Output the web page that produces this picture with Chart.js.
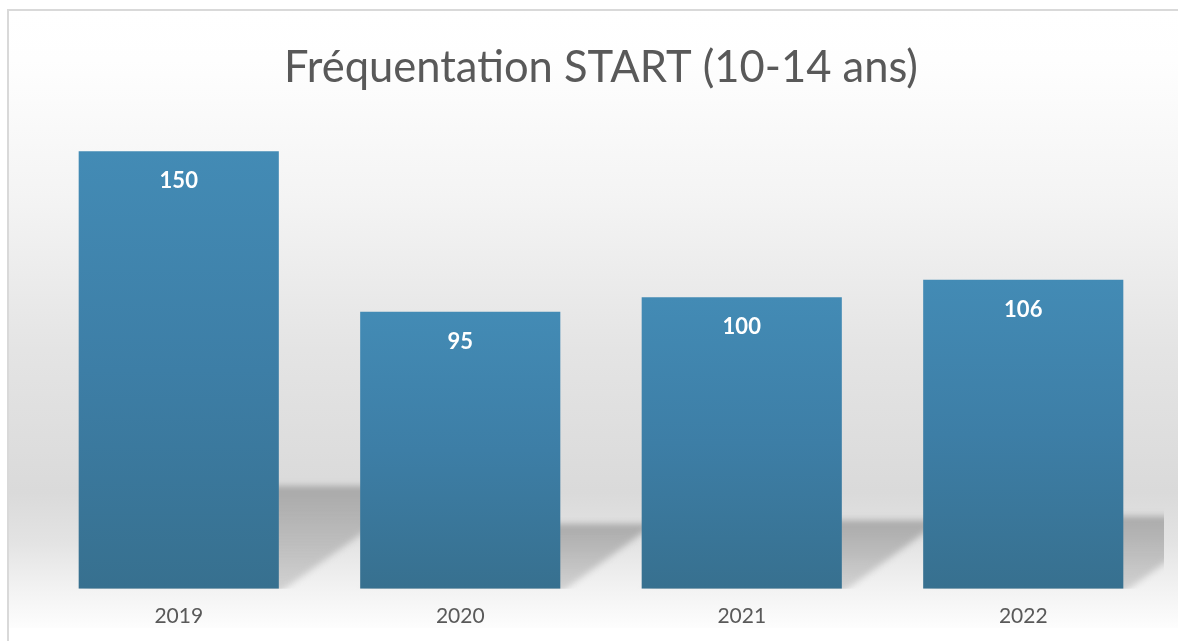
<!DOCTYPE html>
<html>
<head>
<meta charset="utf-8">
<script src="https://cdn.jsdelivr.net/npm/chart.js@4"></script>
<style>
  html, body { margin: 0; padding: 0; background: #fff; }
  #wrap { width: 1178px; height: 641px; }
</style>
</head>
<body>
<div id="wrap"><canvas id="freqChart" width="1178" height="641"></canvas></div>
<script>
const years = ['2019', '2020', '2021', '2022'];
const visitors = [150, 95, 100, 106];
const chartTitle = 'Fréquentation START (10-14 ans)';

// background + frame like the Excel chart area
const backdrop = {
    id: 'backdrop',
    beforeDraw(chart) {
        const ctx = chart.ctx;
        ctx.save();
        ctx.fillStyle = '#ffffff';
        ctx.fillRect(0, 0, chart.width, chart.height);
        const g = ctx.createLinearGradient(0, 11, 0, 628);
        g.addColorStop(0.0, '#ffffff');
        g.addColorStop(0.08, '#fefefe');
        g.addColorStop(0.3, '#f4f4f4');
        g.addColorStop(0.55, '#e4e4e4');
        g.addColorStop(0.78, '#dadada');
        g.addColorStop(0.86, '#e3e3e3');
        g.addColorStop(0.935, '#f2f2f2');
        g.addColorStop(1.0, '#fdfdfd');
        ctx.fillStyle = g;
        ctx.fillRect(9, 11, chart.width - 9, 617);
        ctx.strokeStyle = '#d9d9d9';
        ctx.lineWidth = 2;
        ctx.beginPath();
        ctx.moveTo(8, chart.height);
        ctx.lineTo(8, 10);
        ctx.lineTo(chart.width, 10);
        ctx.stroke();
        ctx.restore();
    }
};

// skewed floor shadow behind each bar
const floorShadow = {
    id: 'floorShadow',
    beforeDatasetsDraw(chart) {
        const ctx = chart.ctx;
        const area = chart.chartArea;
        ctx.save();
        ctx.beginPath();
        ctx.rect(area.left, area.top, area.right - area.left, area.bottom - area.top);
        ctx.clip();
        ctx.filter = 'blur(3px)';
        chart.getDatasetMeta(0).data.forEach(bar => {
            const base = bar.base;
            const h = (base - bar.y) * 0.235;
            const dx = h * 1.46;
            const x0 = bar.x - bar.width / 2;
            const x1 = bar.x + bar.width / 2;
            const g = ctx.createLinearGradient(0, base - h, 0, base);
            g.addColorStop(0, 'rgba(150,150,150,0.72)');
            g.addColorStop(1, 'rgba(170,170,170,0.45)');
            ctx.fillStyle = g;
            ctx.beginPath();
            ctx.moveTo(x0, base + 4);
            ctx.lineTo(x0 + dx, base - h);
            ctx.lineTo(x1 + dx, base - h);
            ctx.lineTo(x1, base + 4);
            ctx.closePath();
            ctx.fill();
        });
        ctx.restore();
    }
};

// value labels inside the top of the bars
const barValues = {
    id: 'barValues',
    afterDatasetsDraw(chart) {
        const ctx = chart.ctx;
        ctx.save();
        ctx.fillStyle = '#ffffff';
        ctx.font = 'bold 22px Lato';
        ctx.textAlign = 'center';
        ctx.textBaseline = 'middle';
        chart.getDatasetMeta(0).data.forEach((bar, i) => {
            ctx.fillText(String(visitors[i]), bar.x, bar.y + 30);
        });
        ctx.restore();
    }
};

function barFill(context) {
    const chart = context.chart;
    const yScale = chart.scales.y;
    if (!yScale || context.raw === undefined) return '#3f82ab';
    const top = yScale.getPixelForValue(context.raw);
    const bottom = yScale.getPixelForValue(0);
    if (!isFinite(top) || !isFinite(bottom) || top === bottom) return '#3f82ab';
    const g = chart.ctx.createLinearGradient(0, top, 0, bottom);
    g.addColorStop(0, '#438bb5');
    g.addColorStop(0.5, '#3d7ea6');
    g.addColorStop(1, '#37708f');
    return g;
}

new Chart(document.getElementById('freqChart'), {
    type: 'bar',
    data: {
        labels: years,
        datasets: [{
            label: 'Fréquentation',
            data: visitors,
            backgroundColor: barFill,
            borderWidth: 0,
            categoryPercentage: 1,
            barPercentage: 0.711
        }]
    },
    options: {
        responsive: false,
        animation: false,
        layout: { padding: { left: 38, right: 14, top: 12, bottom: -3 } },
        plugins: {
            legend: { display: false },
            tooltip: { enabled: false },
            title: {
                display: true,
                text: chartTitle,
                color: '#595959',
                font: { family: 'Lato', size: 43.5, weight: 'normal' },
                padding: { top: 30, bottom: 28 }
            }
        },
        scales: {
            y: { display: false, min: 0, max: 160 },
            x: {
                grid: { display: false, drawTicks: false },
                border: { display: false },
                ticks: { color: '#595959', font: { family: 'Lato', size: 21 }, padding: 15 }
            }
        }
    },
    plugins: [backdrop, floorShadow, barValues]
});
</script>
</body>
</html>
